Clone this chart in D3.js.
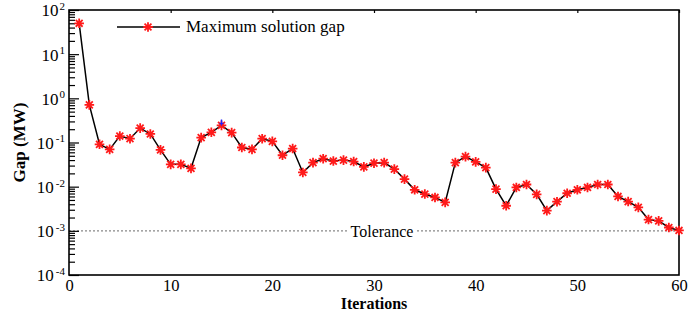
<!DOCTYPE html>
<html>
<head>
<meta charset="utf-8">
<script src="https://cdn.jsdelivr.net/npm/d3@7"></script>
<style>
  html, body { margin: 0; padding: 0; background: #fff; }
  svg { display: block; }
  text { font-family: "Liberation Serif", "Times New Roman", serif; }
</style>
</head>
<body>
<svg id="chart" width="692" height="312"></svg>
<script>
const iterations = [1,2,3,4,5,6,7,8,9,10,11,12,13,14,15,16,17,18,19,20,
  21,22,23,24,25,26,27,28,29,30,31,32,33,34,35,36,37,38,39,40,
  41,42,43,44,45,46,47,48,49,50,51,52,53,54,55,56,57,58,59,60];
const gap = [50, 0.71, 0.091, 0.070, 0.14, 0.122, 0.212, 0.156, 0.068, 0.032,
  0.032, 0.026, 0.129, 0.17, 0.244, 0.167, 0.077, 0.070, 0.122, 0.106,
  0.0515, 0.073, 0.021, 0.035, 0.043, 0.038, 0.040, 0.037, 0.028, 0.034,
  0.035, 0.025, 0.0148, 0.0085, 0.0068, 0.0057, 0.0044, 0.035, 0.048, 0.0365,
  0.027, 0.0088, 0.0037, 0.0096, 0.0112, 0.0067, 0.00287, 0.00457, 0.0071, 0.0085,
  0.0096, 0.0112, 0.0112, 0.006, 0.0046, 0.0034, 0.0018, 0.00168, 0.00119, 0.00102];
const xTicks = [0, 10, 20, 30, 40, 50, 60];
const yExponents = [-4, -3, -2, -1, 0, 1, 2];
const tolerance = 1e-3;
const seriesName = "Maximum solution gap";
const toleranceLabel = "Tolerance";
const xTitle = "Iterations";
const yTitle = "Gap (MW)";

const svg = d3.select("#chart");
const L = 69, R = 679, T = 10, B = 275;

const x = d3.scaleLinear().domain([0, 60]).range([L, R]);
const y = d3.scaleLog().domain([1e-4, 1e2]).range([B, T]);

// tolerance line
svg.append("line")
  .attr("x1", L).attr("x2", R)
  .attr("y1", y(tolerance)).attr("y2", y(tolerance))
  .attr("stroke", "#888").attr("stroke-width", 1.2)
  .attr("stroke-dasharray", "2,2");
const tolX = 382;
svg.append("rect").attr("x", tolX - 35).attr("y", y(tolerance) - 7)
  .attr("width", 70).attr("height", 13).attr("fill", "#fff");
svg.append("text").attr("x", tolX).attr("y", y(tolerance) + 6)
  .attr("text-anchor", "middle").attr("font-size", 16).text(toleranceLabel);

// minor y ticks
const minorVals = [];
yExponents.slice(0, -1).forEach(e => {
  for (let m = 2; m <= 9; m++) minorVals.push(m * Math.pow(10, e));
});
svg.append("g").attr("transform", `translate(${L},0)`)
  .call(d3.axisLeft(y).tickValues(minorVals).tickSize(-6).tickFormat(""))
  .call(g => g.select(".domain").remove())
  .call(g => g.selectAll("line").attr("stroke", "#000").attr("stroke-width", 1.2));

// major y ticks
const yAxisG = svg.append("g").attr("transform", `translate(${L},0)`)
  .call(d3.axisLeft(y).tickValues(yExponents.map(e => Math.pow(10, e)))
    .tickSize(-10).tickPadding(6).tickFormat(""))
  .call(g => g.select(".domain").remove())
  .call(g => g.selectAll("line").attr("stroke", "#000").attr("stroke-width", 1.2));
yAxisG.selectAll(".tick text").each(function(d, i) {
  const t = d3.select(this);
  const e = Math.round(Math.log10(d));
  t.attr("font-size", 17).attr("fill", "#000").attr("font-family", "Liberation Serif, serif")
   .attr("dy", "0.35em").attr("x", -4);
  t.append("tspan").text("10");
  t.append("tspan").attr("font-size", 11).attr("dy", "-0.6em")
    .attr("dx", e < 0 ? 2 : 1)
    .text(String(e));
});

// bottom x axis
svg.append("g").attr("transform", `translate(0,${B})`)
  .call(d3.axisBottom(x).tickValues(xTicks).tickSize(0).tickPadding(4).tickFormat(d3.format("d")))
  .call(g => g.select(".domain").remove())
  .call(g => g.selectAll("text").attr("font-size", 16.5).attr("fill", "#000")
    .attr("font-family", "Liberation Serif, serif"));

// top ticks
svg.append("g").attr("transform", `translate(0,${T})`)
  .call(d3.axisTop(x).tickValues(xTicks).tickSize(-3).tickFormat(""))
  .call(g => g.select(".domain").remove())
  .call(g => g.selectAll("line").attr("stroke", "#000").attr("stroke-width", 1.2));

// frame
svg.append("rect").attr("x", L).attr("y", T).attr("width", R - L).attr("height", B - T)
  .attr("fill", "none").attr("stroke", "#000").attr("stroke-width", 1.6);

// line
const data = iterations.map((it, i) => ({ it, v: gap[i] }));
svg.append("path").datum(data)
  .attr("fill", "none").attr("stroke", "#000").attr("stroke-width", 1.5)
  .attr("d", d3.line().x(d => x(d.it)).y(d => y(d.v)));

function asterisk(r) {
  const d = r * 0.72;
  return `M0,${-r}L0,${r}M${-r},0L${r},0M${-d},${-d}L${d},${d}M${-d},${d}L${d},${-d}`;
}
svg.append("g").selectAll("path").data(data).join("path")
  .attr("transform", d => `translate(${x(d.it)},${y(d.v)})`)
  .attr("d", asterisk(4.8))
  .attr("fill", "none").attr("stroke", "#ff1a1a").attr("stroke-width", 1.8);

// blue marker at maximum after first drop (iteration 15)
const peak = data[14];
svg.append("path")
  .attr("transform", `translate(${x(peak.it)},${y(peak.v)})`)
  .attr("d", "M0,-6L0,0M-2,-2L2,-2")
  .attr("stroke", "#2020ff").attr("stroke-width", 1.4).attr("fill", "none");

// legend
const lgY = 27;
svg.append("line").attr("x1", 117).attr("x2", 180).attr("y1", lgY).attr("y2", lgY)
  .attr("stroke", "#000").attr("stroke-width", 1.5);
svg.append("path").attr("transform", `translate(148,${lgY})`).attr("d", asterisk(4.8))
  .attr("fill", "none").attr("stroke", "#ff1a1a").attr("stroke-width", 1.8);
svg.append("text").attr("x", 186).attr("y", lgY + 5).attr("font-size", 17)
  .text(seriesName);

// axis titles
svg.append("text").attr("x", (L + R) / 2).attr("y", 309)
  .attr("text-anchor", "middle").attr("font-weight", "bold").attr("font-size", 16)
  .text(xTitle);
svg.append("text").attr("transform", `translate(25,${(T + B) / 2}) rotate(-90)`)
  .attr("text-anchor", "middle").attr("font-weight", "bold").attr("font-size", 17)
  .text(yTitle);
</script>
</body>
</html>
